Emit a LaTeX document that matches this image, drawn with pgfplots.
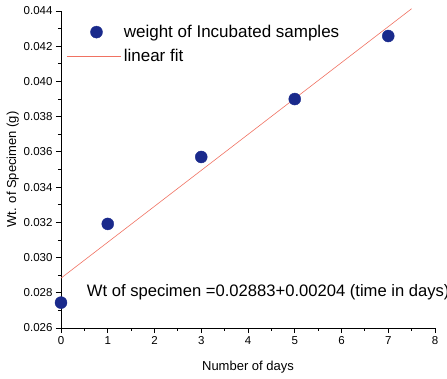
\documentclass[border=0pt]{standalone}
\usepackage{pgfplots}
\pgfplotsset{compat=1.18}
\usepackage{fontspec}
\setmainfont{Liberation Sans}
\usetikzlibrary{calc}
\definecolor{ptblue}{HTML}{1A2A8C}
\definecolor{fitred}{HTML}{F07262}
\pgfplotsset{
  longline/.style={legend image code/.code={\draw[##1] (0pt,0pt) -- (54pt,0pt);}},
  dotleg/.style={legend image code/.code={\draw[##1, mark=*, mark size=6pt] plot coordinates {(29pt,0pt)};}},
}
\begin{document}
\begin{tikzpicture}
\begin{axis}[
  scale only axis,
  width=374pt, height=317pt,
  xmin=0, xmax=8, ymin=0.026, ymax=0.044,
  axis x line*=bottom, axis y line*=left,
  axis line style={line width=0.8pt, -},
  xtick={0,1,...,8},
  ytick={0.026,0.028,...,0.044},
  minor x tick num=1, minor y tick num=1,
  tick align=outside,
  major tick length=5pt, minor tick length=3pt,
  every tick/.style={black, line width=0.8pt},
  /pgf/number format/assume math mode=true,
  yticklabel style={/pgf/number format/.cd, fixed, fixed zerofill, precision=3},
  scaled y ticks=false,
  tick label style={font=\fontsize{11.5}{13}\selectfont},
  xlabel={Number of days},
  ylabel={Wt. of Specimen (g)},
  label style={font=\fontsize{13}{15}\selectfont},
  xlabel style={yshift=-10pt},
  ylabel style={yshift=-2pt},
  clip=false,
  legend style={draw=none, fill=none, at={(0,1)}, anchor=north west,
    xshift=6pt, yshift=-12pt, inner sep=0pt,
    font=\fontsize{17}{19}\selectfont, row sep=6pt},
  legend cell align=left,
]
\addplot[only marks, mark=*, mark size=6pt, ptblue, mark options={fill=ptblue, draw=ptblue}, dotleg]
  coordinates {(0,0.02744) (1,0.03191) (3,0.03571) (5,0.03900) (7,0.04258)};
\addlegendentry{weight of Incubated samples}
\addplot[fitred, line width=0.6pt, longline]
  coordinates {(0,0.02883) (7.5,0.04413)};
\addlegendentry{linear fit}
\node[anchor=west, font=\fontsize{16.6}{19}\selectfont, inner sep=0pt] at (axis cs:0.55,0.02805)
  {Wt of specimen =0.02883+0.00204 (time in days)};
\end{axis}
\pgfresetboundingbox
\path[use as bounding box] ($(current axis.south west)+(-61pt,-51pt)$) rectangle ($(current axis.north east)+(12pt,11pt)$);
\end{tikzpicture}
\end{document}
